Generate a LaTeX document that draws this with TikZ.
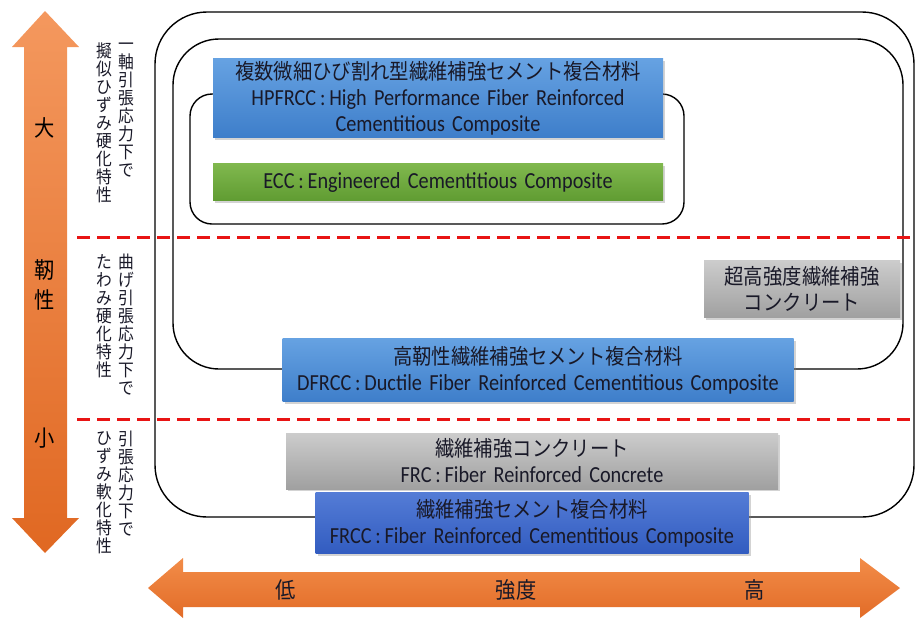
\documentclass[tikz,border=0pt]{standalone}
\usepackage{fontspec}
\setmainfont{Carlito}[FakeStretch=0.88, WordSpace=1.6]
\newfontfamily\jp{Noto Sans CJK JP}[FakeStretch=0.9]
\usetikzlibrary{shadows}

\definecolor{txtdark}{RGB}{25,25,40}
\definecolor{dashred}{RGB}{232,20,20}

\begin{document}
\begin{tikzpicture}[x=1pt, y=-1pt,
    matbox/.style={rectangle, inner sep=0pt, align=center, text=txtdark,
      font=\fontsize{23}{26}\selectfont,
      drop shadow={shadow xshift=2pt, shadow yshift=-2pt, opacity=0.35}},
    blueshade/.style={top color={rgb,255:red,102;green,162;blue,226}, bottom color={rgb,255:red,62;green,126;blue,202}},
    deepblue/.style={top color={rgb,255:red,84;green,124;blue,214}, bottom color={rgb,255:red,50;green,92;blue,192}},
    greenshade/.style={top color={rgb,255:red,128;green,184;blue,78}, bottom color={rgb,255:red,96;green,156;blue,50}},
    grayshade/.style={top color={rgb,255:red,204;green,204;blue,204}, bottom color={rgb,255:red,160;green,160;blue,160}},
    scope/.style={draw=black, line width=1.4pt},
    vcol/.style={anchor=north, align=center, inner sep=0pt, text=txtdark,
      font=\jp\fontsize{17.5}{18}\selectfont},
    biglab/.style={inner sep=0pt, align=center, text=black, font=\jp\fontsize{22.5}{30}\selectfont},
    sep/.style={dashred, line width=3pt, dash pattern=on 13pt off 7pt}]

  \useasboundingbox (0,0) rectangle (917,619);

  % toughness arrow
  \shade [top color={rgb,255:red,244;green,152;blue,94}, bottom color={rgb,255:red,224;green,104;blue,34}]
    (45,11) -- (79,47) -- (67,47) -- (67,518) -- (79,518) -- (45,553)
    -- (12,518) -- (24,518) -- (24,47) -- (12,47) -- cycle;
  % strength arrow
  \shade [top color={rgb,255:red,242;green,140;blue,72}, bottom color={rgb,255:red,226;green,108;blue,40}]
    (148,588) -- (183,558) -- (183,572) -- (860,572) -- (860,558) -- (900,588)
    -- (860,618) -- (860,607) -- (183,607) -- (183,618) -- cycle;

  \node [biglab] (dai) at (45,128) {大};
  \node [biglab] (jinsei) at (45,285) {靭\\性};
  \node [biglab] (sho) at (45,438) {小};

  \node [biglab, text=txtdark] (tei) at (286,590) {低};
  \node [biglab, text=txtdark] (kyodo) at (516,590) {強度};
  \node [biglab, text=txtdark] (ko) at (755,590) {高};

  % behaviour labels
  \node [vcol] (uniA) at (126,43) {一\\軸\\引\\張\\応\\力\\下\\で};
  \node [vcol] (uniB) at (104,43) {擬\\似\\ひ\\ず\\み\\硬\\化\\特\\性};
  \node [vcol] (bendA) at (126,254) {曲\\げ\\引\\張\\応\\力\\下\\で};
  \node [vcol] (bendB) at (104,254) {た\\わ\\み\\硬\\化\\特\\性};
  \node [vcol] (tenA) at (126,431) {引\\張\\応\\力\\下\\で};
  \node [vcol] (tenB) at (104,431) {ひ\\ず\\み\\軟\\化\\特\\性};

  % scopes
  \draw [scope, rounded corners=52pt] (155,12) rectangle (914,517);
  \draw [scope, rounded corners=46pt] (173,39) rectangle (903,369);
  \draw [scope, rounded corners=22pt] (190,94) rectangle (684,224);

  \draw [sep] (77,237) -- (917,237);
  \draw [sep] (77,419) -- (917,419);

  % materials
  \node [matbox, blueshade, minimum width=450pt, minimum height=79pt] (hpfrcc) at (438,98)
    {{\jp\fontsize{21.5}{26}\selectfont 複数微細ひび割れ型繊維補強セメント複合材料}\\
     HPFRCC\,:\,High Performance Fiber Reinforced\\Cementitious Composite};
  \node [matbox, greenshade, minimum width=450pt, minimum height=37pt] (ecc) at (438,182)
    {ECC\,:\,Engineered Cementitious Composite};
  \node [matbox, grayshade, minimum width=196pt, minimum height=57pt] (uhfrc) at (802,289)
    {{\jp\fontsize{21.5}{25}\selectfont 超高強度繊維補強}\\{\jp\fontsize{21.5}{25}\selectfont コンクリート}};
  \node [matbox, blueshade, minimum width=511pt, minimum height=63pt] (dfrcc) at (538,370)
    {{\jp\fontsize{21.5}{27}\selectfont 高靭性繊維補強セメント複合材料}\\
     DFRCC\,:\,Ductile Fiber Reinforced Cementitious Composite};
  \node [matbox, grayshade, minimum width=492pt, minimum height=56pt] (frc) at (532,461)
    {{\jp\fontsize{21.5}{26}\selectfont 繊維補強コンクリート}\\FRC\,:\,Fiber Reinforced Concrete};
  \node [matbox, deepblue, minimum width=433pt, minimum height=61pt] (frcc) at (532,523)
    {{\jp\fontsize{21.5}{27}\selectfont 繊維補強セメント複合材料}\\
     FRCC\,:\,Fiber Reinforced Cementitious Composite};
\end{tikzpicture}
\end{document}
